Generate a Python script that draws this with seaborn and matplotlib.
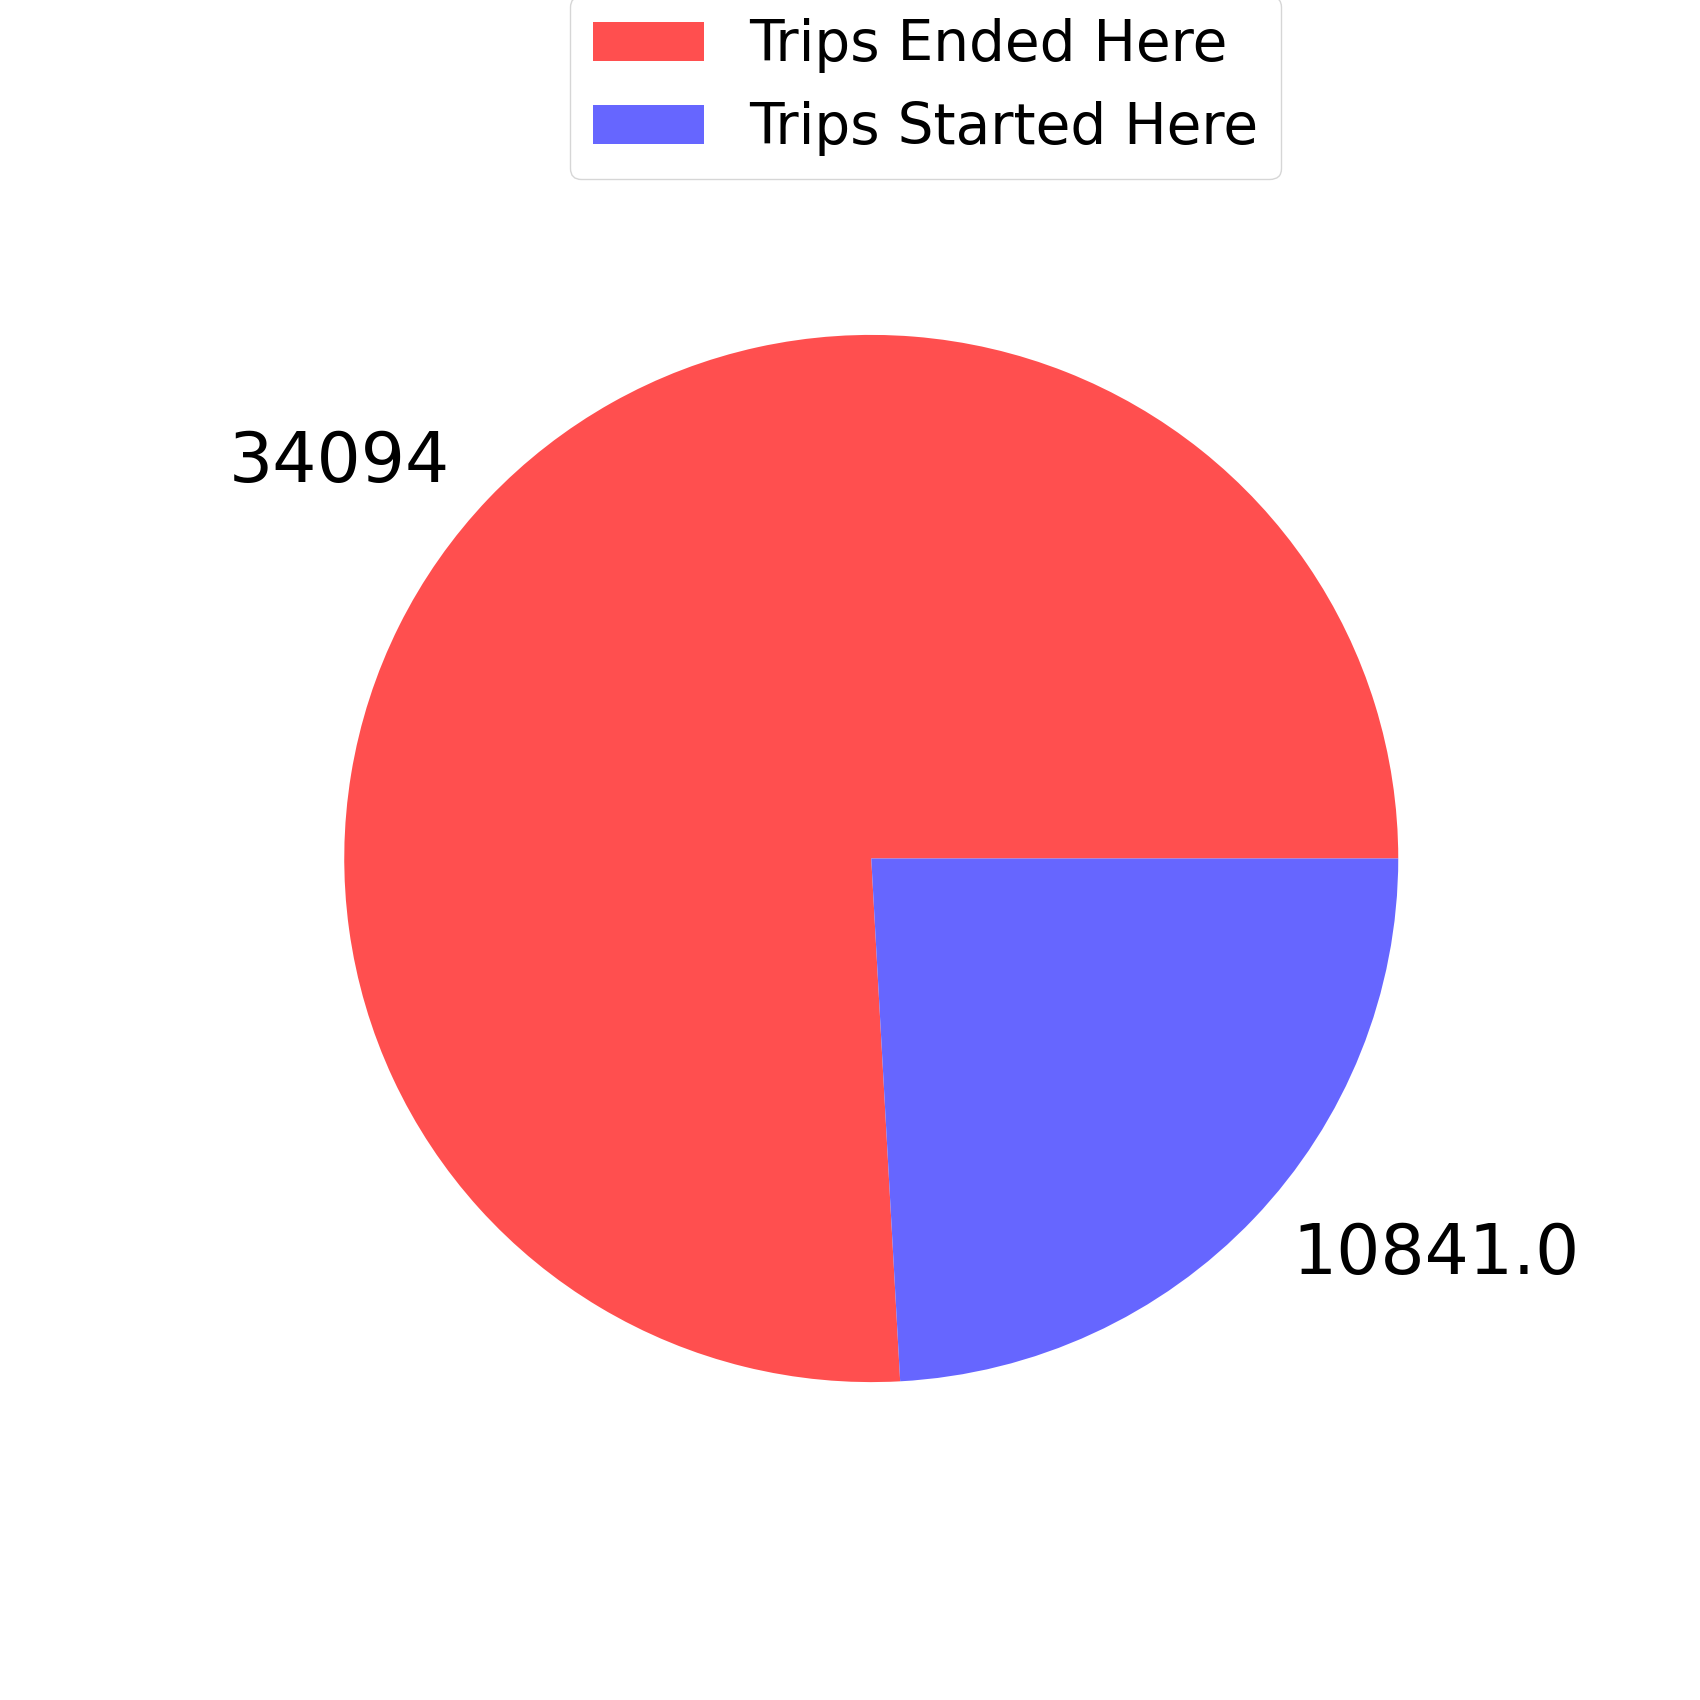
import matplotlib
matplotlib.use("Agg")
import matplotlib.pyplot as plt
import seaborn as sns

# slice values (the second one came through as a float)
categories = ["Trips Ended Here", "Trips Started Here"]
values = [34094, 10841.0]
value_labels = ["34094", "10841.0"]
colors = ["#FF4F4F", "#6666FF"]

palette = sns.color_palette(colors)
plt.rcParams["font.family"] = ["DejaVu Sans"]

fig, ax = plt.subplots(figsize=(17, 17), dpi=100)
ax.pie(values, labels=value_labels, colors=palette,
       textprops={"fontsize": 50, "color": "black"})
# older-style pie: not forced to a square aspect
ax.set_aspect("auto")
fig.legend(categories, loc="upper center", bbox_to_anchor=(0.5443, 1.0026),
           borderaxespad=0, fontsize=40.7, handlelength=1.966)

fig.savefig("out.png", dpi=100)
